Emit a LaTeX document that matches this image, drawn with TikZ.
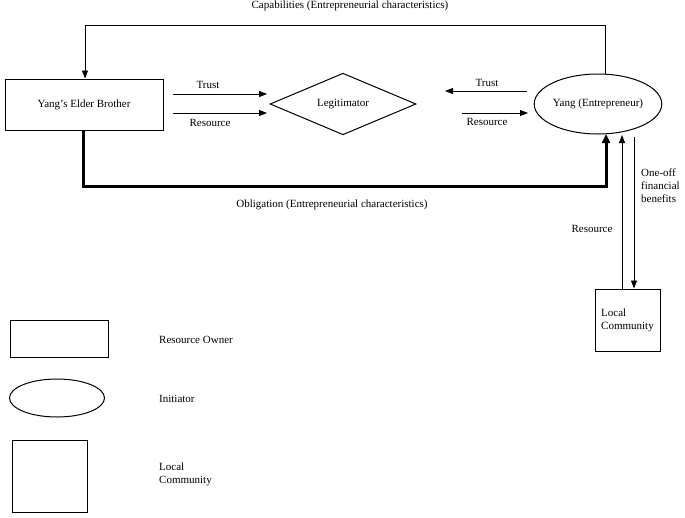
\documentclass[tikz,border=0pt]{standalone}
\usepackage{fontspec}
\setmainfont{Liberation Serif}
\usetikzlibrary{shapes.geometric,arrows.meta}
\begin{document}
\begin{tikzpicture}[x=1pt,y=-1pt,font=\fontsize{11}{13}\selectfont,
  box/.style={draw,line width=1pt,inner sep=0pt},
  arr/.style={-{Triangle[length=8pt,width=6pt]},line width=0.9pt},
  lbl/.style={inner sep=1pt}]
\useasboundingbox (0,0) rectangle (685,517);
\node[box,minimum width=158,minimum height=51] (eb) at (84,104.5) {Yang’s Elder Brother};
\node[diamond,draw,line width=1pt,minimum width=146,minimum height=52,inner sep=0pt] (leg) at (343,104) {Legitimator};
\node[ellipse,draw,line width=1pt,minimum width=122,minimum height=60,inner sep=0pt] (yang) at (598,104) {Yang (Entrepreneur)};
\node[box,minimum width=65,minimum height=62,align=left] (lc) at (627.5,320) {Local\\Community};
% top line
\coordinate (t1) at (605,25); \coordinate (t2) at (85,25);
\draw[arr] (605,74.4) -- (t1) -- (t2) -- (eb.north -| t2);
\node[lbl] (cap) at (350,6) {Capabilities (Entrepreneurial characteristics)};
% trust/resource arrows
\coordinate (a1) at (173,94); \coordinate (a2) at (267,94);
\draw[arr] (a1) -- (a2);
\node[lbl] (tr1) at (208,85) {Trust};
\coordinate (b1) at (173,113); \coordinate (b2) at (267,113);
\draw[arr] (b1) -- (b2);
\node[lbl] (rs1) at (210,123) {Resource};
\coordinate (c1) at (527,91); \coordinate (c2) at (445,91);
\draw[arr] (c1) -- (c2);
\node[lbl] (tr2) at (487,83) {Trust};
\coordinate (d1) at (462,113); \coordinate (d2) at (528,113);
\draw[arr] (d1) -- (d2);
\node[lbl] (rs2) at (487,122) {Resource};
% obligation
\coordinate (o1) at (83,186); \coordinate (o2) at (606,186);
\draw[-{Triangle[length=9pt,width=8pt]},line width=3pt] (eb.south -| o1) -- (o1) -- (o2) -- (606,134);
\node[lbl] (obl) at (332,205) {Obligation (Entrepreneurial characteristics)};
% local community arrows
\draw[arr] (lc.north -| 622,0) -- (622,135);
\node[lbl] (rs3) at (592,229) {Resource};
\draw[arr] (634,137) -- (lc.north -| 634,0);
\node[lbl,align=left,anchor=west] (oo) at (640,186) {One-off\\financial\\benefits};
% legend
\node[box,minimum width=98,minimum height=37] (lg1) at (59,338.5) {};
\node[lbl,anchor=west] (lt1) at (158,340) {Resource Owner};
\node[ellipse,draw,line width=1pt,minimum width=95,minimum height=38,inner sep=0pt] (lg2) at (57,398) {};
\node[lbl,anchor=west] (lt2) at (158,399) {Initiator};
\node[box,minimum width=75,minimum height=72] (lg3) at (49.5,476) {};
\node[lbl,anchor=west,align=left] (lt3) at (158,474) {Local\\Community};
\end{tikzpicture}
\end{document}
